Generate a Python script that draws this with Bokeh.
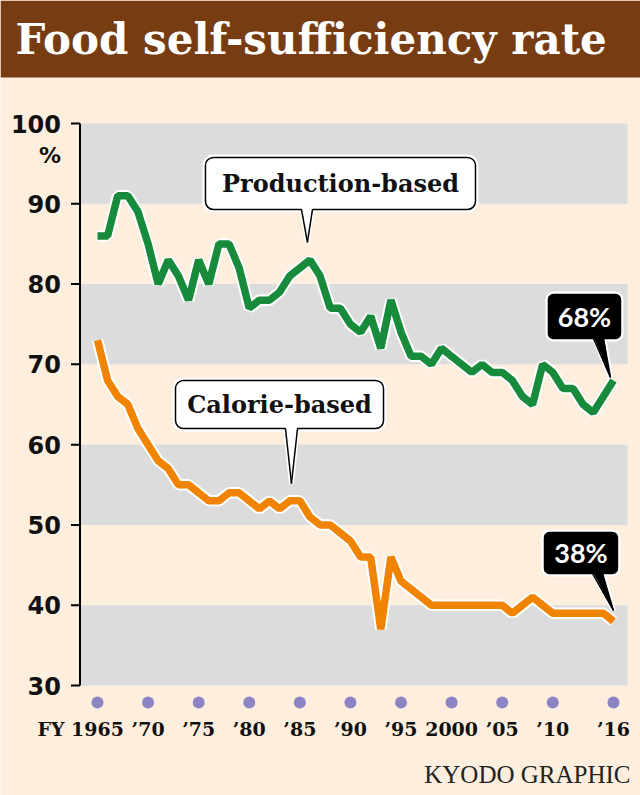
from bokeh.plotting import figure
from bokeh.models import Range1d
from bokeh.core.properties import value
from bokeh.embed import file_html
from bokeh.resources import INLINE

# ---------------- data ----------------
years = list(range(1965, 2017))
production_based = [86, 86, 91, 91, 89, 85, 80, 83, 81, 78,
                    83, 80, 85, 85, 82, 77, 78, 78, 79, 81,
                    82, 83, 81, 77, 77, 75, 74, 76, 72, 78,
                    74, 71, 71, 70, 72, 71, 70, 69, 70, 69,
                    69, 68, 66, 65, 70, 69, 67, 67, 65, 64,
                    66, 68]
calorie_based = [73, 68, 66, 65, 62, 60, 58, 57, 55, 55,
                 54, 53, 53, 54, 54, 53, 52, 53, 52, 53,
                 53, 51, 50, 50, 49, 48, 46, 46, 37, 46,
                 43, 42, 41, 40, 40, 40, 40, 40, 40, 40,
                 40, 39, 40, 41, 40, 39, 39, 39, 39, 39,
                 39, 38]
x_ticks = [1965, 1970, 1975, 1980, 1985, 1990, 1995, 2000, 2005, 2010, 2016]
x_tick_labels = ["1965", "\u201970", "\u201975", "\u201980", "\u201985", "\u201990",
                 "\u201995", "2000", "\u201905", "\u201910", "\u201916"]
y_ticks = [30, 40, 50, 60, 70, 80, 90, 100]
y_tick_labels = ["30", "40", "50", "60", "70", "80", "90", "100"]
title_text = "Food self-sufficiency rate"
series_names = ["Production-based", "Calorie-based"]
credit_text = "KYODO GRAPHIC"

# ---------------- style / layout ----------------
BG = "#fdeedd"
GRAY = "#dcdcdc"
BROWN = "#783c12"
GREEN = "#178a3c"
ORANGE = "#f08300"
PURPLE = "#8c84c4"
INK = "#111111"

W, H = 640, 795
PXX = 516 / 51      # pixels per year
PXY = 562 / 70      # pixels per percentage point


def xv(px):  # canvas pixel -> year
    return 1965 + (px - 97) / PXX


def yv(py):  # canvas pixel -> percent
    return 100 - (py - 123) / PXY


XMIN, XMAX = xv(0), xv(W)
YMIN, YMAX = yv(H), yv(0)
AX_L, AX_R = xv(79.5), xv(627)   # plot area edges

p = figure(width=W, height=H, output_backend="svg", toolbar_location=None,
           x_range=Range1d(XMIN, XMAX), y_range=Range1d(YMIN, YMAX),
           x_axis_location=None, y_axis_location=None, min_border=0,
           background_fill_color=BG, border_fill_color=BG, outline_line_color=None)
p.grid.visible = False

# title bar
p.quad(left=[XMIN], right=[XMAX], bottom=[yv(77)], top=[YMAX],
       fill_color=BROWN, line_color=None)
p.text(x=[XMIN], y=[yv(77)], x_offset=15, y_offset=-38, text=[title_text],
       text_font=value("DejaVu Serif"), text_font_style="bold",
       text_font_size="42px", text_color="white",
       text_baseline="alphabetic", text_align="left")

# alternating bands
band_bottoms = [y_ticks[i] for i in range(0, len(y_ticks) - 1, 2)]
band_tops = [y_ticks[i + 1] for i in range(0, len(y_ticks) - 1, 2)]
p.quad(left=AX_L, right=AX_R, bottom=band_bottoms, top=band_tops,
       fill_color=GRAY, line_color=None)

# y axis: line, ticks, labels
p.segment(x0=[AX_L], y0=[y_ticks[0]], x1=[AX_L], y1=[y_ticks[-1]],
          line_color="black", line_width=2)
p.segment(x0=AX_L - 9 / PXX, y0=y_ticks, x1=AX_L, y1=y_ticks,
          line_color="black", line_width=2)
p.text(x=AX_L, y=y_ticks, text=y_tick_labels, x_offset=-19,
       text_align="right", text_baseline="middle",
       text_font=value("DejaVu Sans"), text_font_style="bold",
       text_font_size="24px", text_color=INK)
p.text(x=[AX_L], y=[y_ticks[-1]], text=["%"], x_offset=-19, y_offset=32,
       text_align="right", text_baseline="middle",
       text_font=value("DejaVu Sans"), text_font_style="bold",
       text_font_size="22px", text_color=INK)

# lines with white halo
for ys, col in ((production_based, GREEN), (calorie_based, ORANGE)):
    p.line(years, ys, line_color="white", line_width=11.5)
    p.line(years, ys, line_color=col, line_width=7.5)

# x axis: dots + labels
p.scatter(x=x_ticks, y=[yv(702)] * len(x_ticks), size=12, color=PURPLE, line_color=None)
p.text(x=x_ticks, y=y_ticks[0], text=x_tick_labels, y_offset=43,
       text_align="center", text_baseline="alphabetic",
       text_font=value("DejaVu Serif"), text_font_style="bold",
       text_font_size="19px", text_color=INK)
p.text(x=[x_ticks[0]], y=[y_ticks[0]], text=["FY"], x_offset=-33, y_offset=43,
       text_align="right", text_baseline="alphabetic",
       text_font=value("DejaVu Serif"), text_font_style="bold",
       text_font_size="19px", text_color=INK)

# callouts: (text, left, right, bottom, top, base_l, base_r, tip_x, tip_y, dark)
callouts = [
    (series_names[0], 1975.67, 2002.36, 89.29, 95.77, 1985.16, 1986.25, 1985.75, 85.18, False),
    (series_names[1], 1972.71, 1993.27, 62.01, 67.99, 1983.58, 1984.77, 1984.17, 55.16, False),
    (f"{production_based[-1]}%", 2009.57, 2016.69, 73.22, 78.70, 2014.02, 2015.01, 2015.70, 68.37, True),
    (f"{calorie_based[-1]}%", 2009.18, 2016.39, 43.95, 49.06, 2013.92, 2014.91, 2015.99, 39.35, True),
]
for (txt, l, r, b, t, bl, br, tx, ty, dark) in callouts:
    fill = "black" if dark else "white"
    rad = 5 if dark else 8
    p.quad(left=[l], right=[r], bottom=[b], top=[t], fill_color="white",
           line_color="white", line_width=6, border_radius=rad)
    p.patch([bl, tx, br], [b + 0.3, ty, b + 0.3], fill_color="white",
            line_color="white", line_width=5)
    p.quad(left=[l], right=[r], bottom=[b], top=[t], fill_color=fill,
           line_color="black", line_width=1.5, border_radius=rad)
    p.patch([bl, tx, br], [b + 0.25, ty, b + 0.25], fill_color=fill, line_color=None)
    p.multi_line([[bl, tx], [br, tx]], [[b, ty], [b, ty]], line_color="black", line_width=1.5)
    if dark:
        p.text(x=[(l + r) / 2], y=[(b + t) / 2], text=[txt], text_align="center",
               text_baseline="middle", text_font=value("Lato"), text_font_style="bold",
               text_font_size="27px", text_color="white")
    else:
        p.text(x=[(l + r) / 2], y=[(b + t) / 2], text=[txt], text_align="center",
               text_baseline="middle", text_font=value("DejaVu Serif"), text_font_style="bold",
               text_font_size="24px", text_color=INK)

# credit
p.text(x=[AX_R], y=[y_ticks[0]], text=[credit_text], x_offset=3, y_offset=89,
       text_align="right", text_baseline="alphabetic",
       text_font=value("Liberation Serif"), text_font_size="25px", text_color="#222222")

open("out.html", "w").write(file_html(p, INLINE))
